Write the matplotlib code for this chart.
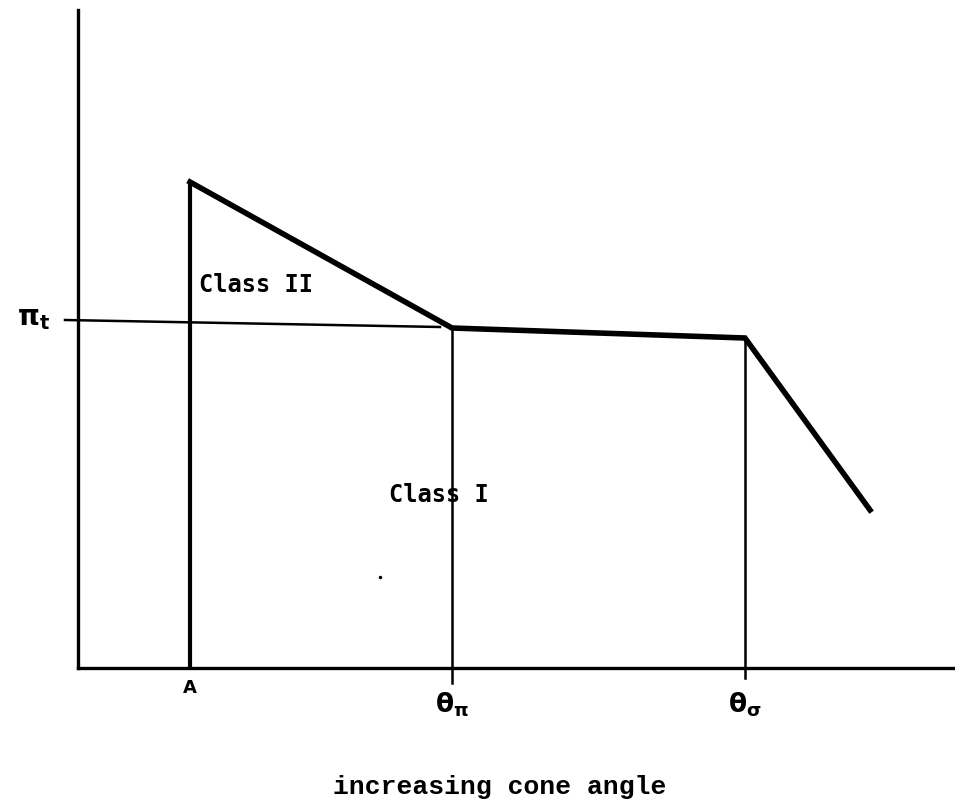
import matplotlib.pyplot as plt

# piecewise curve (x = cone angle, y = value), arbitrary units
curve_x = [112, 374, 667, 792]
curve_y = [486, 340, 330, 158]

# marked angles
angle_labels = ['A', r'$\mathbf{\theta_\pi}$', r'$\mathbf{\theta_\sigma}$']
angle_x = [112, 374, 667]

# threshold level pi_t
pit_x = [-13, 362]
pit_y = [348, 341]


def main():
    fig = plt.figure(figsize=(9.55, 8.05), dpi=100)
    ax = fig.add_axes([78 / 955, 137 / 805, 877 / 955, 658 / 805])
    ax.set_xlim(0, 877)
    ax.set_ylim(0, 658)

    for side in ['top', 'right']:
        ax.spines[side].set_visible(False)
    for side in ['left', 'bottom']:
        ax.spines[side].set_linewidth(2.4)
    ax.set_xticks([])
    ax.set_yticks([])

    # vertical at A up to the curve start
    ax.plot([curve_x[0], curve_x[0]], [0, curve_y[0]], color='black', lw=3, solid_capstyle='butt')
    ax.plot(curve_x, curve_y, color='black', lw=4, solid_joinstyle='miter')

    # thin verticals at theta_pi and theta_sigma
    ax.plot([angle_x[1], angle_x[1]], [-15, curve_y[1]], color='black', lw=1.8, clip_on=False)
    ax.plot([angle_x[2], angle_x[2]], [-10, curve_y[2]], color='black', lw=1.8, clip_on=False)

    ax.plot(pit_x, pit_y, color='black', lw=1.8, clip_on=False)

    ax.text(-44, 350, r'$\mathbf{\pi_t}$', fontsize=20, ha='center', va='center')
    ax.text(121, 383, 'Class II', family='DejaVu Sans Mono', fontsize=17,
            fontweight='semibold', va='center')
    ax.text(311, 173, 'Class I', family='DejaVu Sans Mono', fontsize=17,
            fontweight='semibold', va='center')
    ax.plot([302], [91], 'k.', ms=3)

    ax.text(angle_x[0], -20, angle_labels[0], fontsize=13, fontweight='bold',
            ha='center', va='center')
    ax.text(angle_x[1], -37, angle_labels[1], fontsize=19, ha='center', va='center')
    ax.text(angle_x[2], -37, angle_labels[2], fontsize=19, ha='center', va='center')

    fig.text(500 / 955, 1 - 787 / 805, 'increasing cone angle', family='Liberation Mono',
             fontsize=19, fontweight='bold', ha='center', va='center')

    fig.savefig('out.png', dpi=100)


if __name__ == "__main__":
    main()
